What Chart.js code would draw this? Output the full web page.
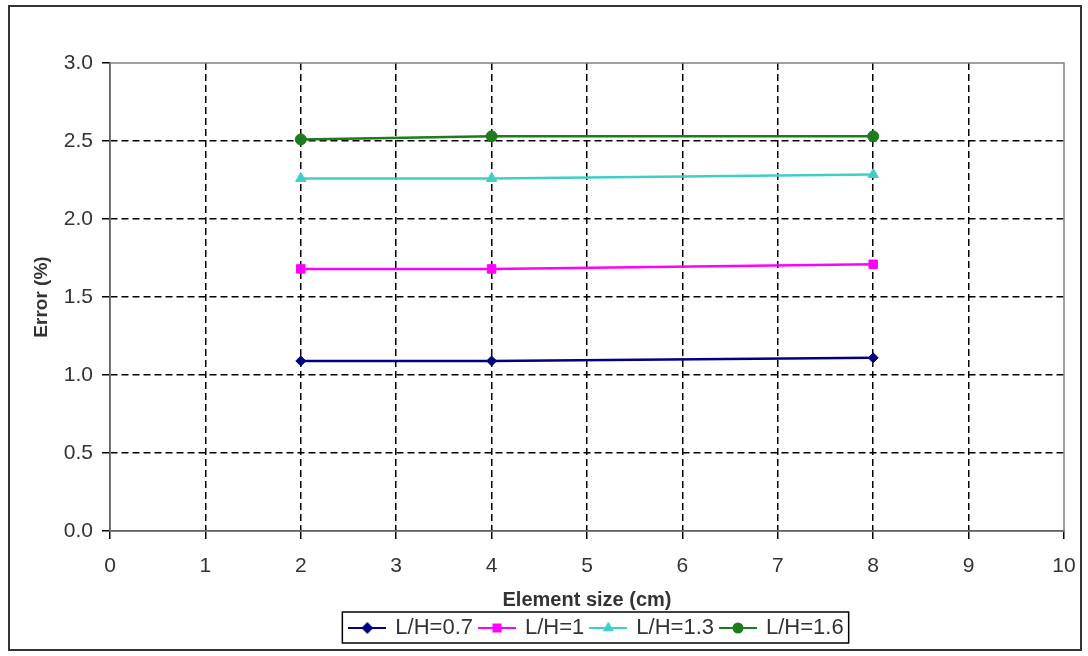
<!DOCTYPE html>
<html>
<head>
<meta charset="utf-8">
<script src="https://cdn.jsdelivr.net/npm/chart.js@4"></script>
<style>
  body { margin: 0; background: #fff; }
  #wrap { position: absolute; left: 8px; top: 5px; width: 1070px; height: 642px; border: 2px solid #333; }
  canvas { display: block; }
</style>
</head>
<body>
<div id="wrap"><canvas id="myChart" width="1070" height="642"></canvas></div>
<script>
  const sizes = [2, 4, 8];
  const lh07 = [1.09, 1.09, 1.11];
  const lh10 = [1.68, 1.68, 1.71];
  const lh13 = [2.26, 2.26, 2.285];
  const lh16 = [2.51, 2.53, 2.53];
  const seriesNames = ["L/H=0.7", "L/H=1", "L/H=1.3", "L/H=1.6"];
  const seriesColors = ["#000080", "#ff00ff", "#40cfc6", "#1e7b1e"];
  const markers = ["rectRot", "rect", "triangle", "circle"];
  const yTicks = [0, 0.5, 1, 1.5, 2, 2.5, 3];

  const toPts = (vals) => sizes.map((x, i) => ({ x: x, y: vals[i] }));

  // little line + marker icon for the legend, like Excel
  function legendIcon(color, style) {
    const c = document.createElement("canvas");
    c.width = 38;
    c.height = 14;
    const g = c.getContext("2d");
    g.strokeStyle = color;
    g.fillStyle = color;
    g.lineWidth = 2;
    g.beginPath();
    g.moveTo(0, 7);
    g.lineTo(38, 7);
    g.stroke();
    Chart.helpers.drawPoint(g, { pointStyle: style, radius: style === "rect" ? 5 : 4.5, rotation: 0, borderWidth: 1 }, 19, 7);
    g.fill();
    return c;
  }
  const icons = seriesColors.map((c, i) => legendIcon(c, markers[i]));

  // frame around the plot area (gray top/right like Excel)
  const plotFrame = {
    id: "plotFrame",
    beforeDatasetsDraw(chart) {
      const a = chart.chartArea;
      const ctx = chart.ctx;
      ctx.save();
      ctx.strokeStyle = "#808080";
      ctx.lineWidth = 1.5;
      ctx.strokeRect(a.left, a.top, a.right - a.left, a.bottom - a.top);
      ctx.restore();
    },
  };

  // nudge the legend a bit right and box it
  const legendShift = 10;
  const legendBox = {
    id: "legendBox",
    afterUpdate(chart) {
      const l = chart.legend;
      l.left += legendShift;
      l.right += legendShift;
      l.legendHitBoxes.forEach((h) => { h.left += legendShift; });
    },
    afterDraw(chart) {
      const hb = chart.legend.legendHitBoxes;
      if (!hb.length) return;
      const ctx = chart.ctx;
      const last = hb[hb.length - 1];
      const x0 = hb[0].left - 8;
      const x1 = last.left + last.width + 5;
      const y0 = hb[0].top - 5;
      const y1 = hb[0].top + hb[0].height + 4;
      ctx.save();
      ctx.strokeStyle = "#000";
      ctx.lineWidth = 1.5;
      ctx.strokeRect(x0, y0, x1 - x0, y1 - y0);
      ctx.restore();
    },
  };

  const family = "'Liberation Sans', Arial, sans-serif";
  const tickFont = { family: family, size: 21 };

  function generateChart() {
    const info = {
      datasets: seriesNames.map((name, i) => ({
        label: name,
        data: toPts([lh07, lh10, lh13, lh16][i]),
        borderColor: seriesColors[i],
        backgroundColor: seriesColors[i],
        pointStyle: markers[i],
        pointRadius: [5, 6, 6, 5.5][i],
        pointBorderWidth: 1,
        borderWidth: 2.5,
        showLine: true,
      })),
    };

    const options = {
      responsive: false,
      animation: false,
      layout: { padding: { left: 10, right: 16, top: 56, bottom: 0 } },
      scales: {
        x: {
          type: "linear",
          min: 0,
          max: 10,
          afterFit: (s) => { s.height = 79; s.paddingLeft = 0; s.paddingRight = 0; },
          ticks: { stepSize: 1, color: "#333", font: tickFont, padding: 15 },
          grid: {
            color: (c) => (c.tick && (c.tick.value === 0 || c.tick.value === 10) ? "rgba(0,0,0,0)" : "#000"),
            lineWidth: 1.5,
            tickLength: 8,
            tickColor: "#000",
            tickBorderDash: [],
          },
          border: { display: true, color: "#000", width: 1.5, dash: [7, 4] },
          title: { display: true, text: "Element size (cm)", color: "#333", font: { family: family, size: 20, weight: "bold", lineHeight: 1.0 }, padding: { top: 0, bottom: 0 } },
        },
        y: {
          min: 0,
          max: 3,
          afterBuildTicks: (s) => { s.ticks = yTicks.map((v) => ({ value: v })); },
          afterFit: (s) => { s.width = 90; },
          ticks: { color: "#333", font: tickFont, padding: 9, callback: (v) => v.toFixed(1) },
          grid: {
            color: (c) => (c.tick && (c.tick.value === 0 || c.tick.value === 3) ? "rgba(0,0,0,0)" : "#000"),
            lineWidth: 1.5,
            tickLength: 8,
            tickColor: "#000",
            tickBorderDash: [],
          },
          border: { display: true, color: "#000", width: 1.5, dash: [7, 4] },
          title: { display: true, text: "Error (%)", color: "#333", font: { family: family, size: 19, weight: "bold" }, padding: { top: 10, bottom: 0 } },
        },
      },
      plugins: {
        legend: {
          position: "bottom",
          fullSize: false,
          labels: {
            usePointStyle: true,
            pointStyleWidth: 34,
            color: "#333",
            font: { family: family, size: 22 },
            padding: 7,
            generateLabels: (chart) => {
              const items = Chart.defaults.plugins.legend.labels.generateLabels(chart);
              items.forEach((it, i) => { it.pointStyle = icons[i]; });
              return items;
            },
          },
        },
        tooltip: { enabled: false },
      },
    };
    const config = { type: "scatter", data: info, options, plugins: [plotFrame, legendBox] };
    new Chart(document.getElementById("myChart"), config);
  }
  generateChart();
</script>
</body>
</html>
